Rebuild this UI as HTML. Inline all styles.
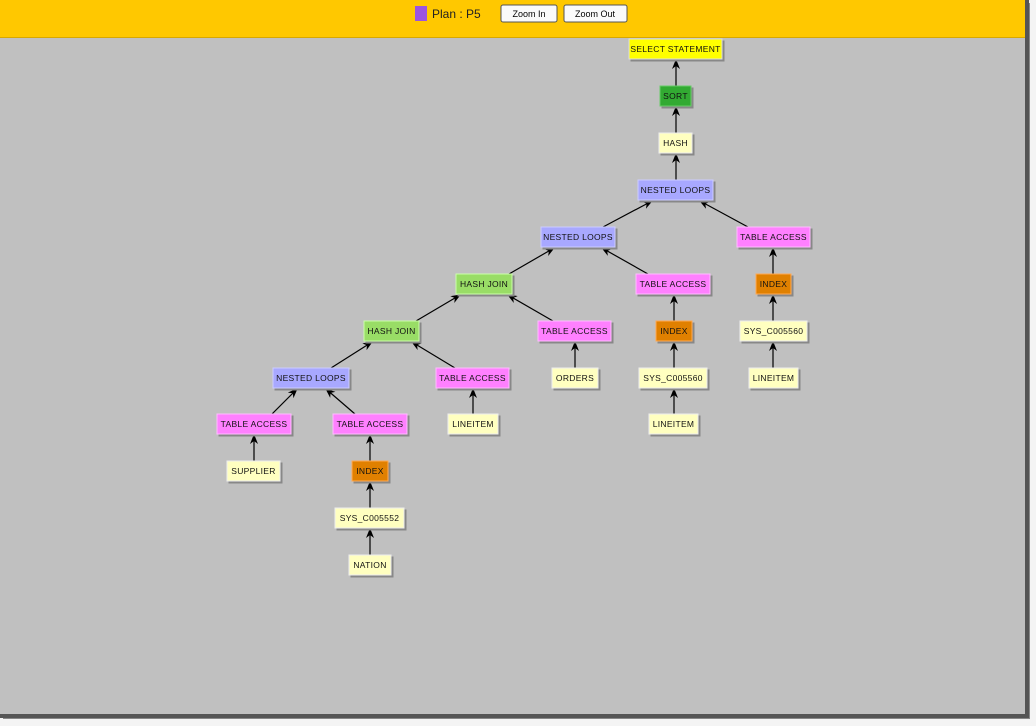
<!DOCTYPE html>
<html><head><meta charset="utf-8"><style>
body{margin:0;width:1036px;height:726px;overflow:hidden;background:#fff;font-family:"Liberation Sans",Arial,sans-serif}
</style></head><body>
<svg width="1036" height="726" xmlns="http://www.w3.org/2000/svg" style="position:absolute;left:0;top:0">
<defs>
<marker id="a" markerWidth="10" markerHeight="8" refX="9" refY="4" orient="auto" markerUnits="userSpaceOnUse"><path d="M0,0 L10,4 L0,8 L3,4 Z" fill="#000"/></marker>
<filter id="s" x="-10%" y="-10%" width="130%" height="150%"><feDropShadow dx="2" dy="2" stdDeviation="0" flood-color="#888" flood-opacity="1"/></filter>
</defs>
<rect x="0" y="0" width="1036" height="726" fill="#f4f4f4"/>
<rect x="3" y="3" width="1027" height="716" fill="#888"/>
<rect x="0" y="0" width="1029" height="718" fill="#555"/>
<rect x="0" y="0" width="1025" height="714" fill="#c0c0c0"/>
<rect x="0" y="0" width="1025" height="37" fill="#ffc800"/>
<rect x="0" y="37" width="1025" height="1" fill="#d8a800"/>
<rect x="415" y="6" width="12" height="15" fill="#9b55e0"/>
<text x="432" y="18" font-size="12" fill="#222">Plan : P5</text>
<rect x="501" y="5" width="56" height="17" rx="2" fill="#fafafa" stroke="#555"/>
<text x="529" y="17" font-size="9" text-anchor="middle">Zoom In</text>
<rect x="564" y="5" width="63" height="17" rx="2" fill="#fafafa" stroke="#555"/>
<text x="595" y="17" font-size="9" text-anchor="middle">Zoom Out</text>
<g stroke="#000" stroke-width="1.2" marker-end="url(#a)">
<line x1="676" y1="86" x2="676" y2="60"/>
<line x1="676" y1="133" x2="676" y2="107"/>
<line x1="676" y1="180" x2="676" y2="154"/>
<line x1="603" y1="227" x2="652" y2="201"/>
<line x1="748" y1="227" x2="700" y2="201"/>
<line x1="509" y1="274" x2="554" y2="248"/>
<line x1="648" y1="274" x2="602" y2="248"/>
<line x1="773" y1="274" x2="773" y2="248"/>
<line x1="416" y1="321" x2="460" y2="295"/>
<line x1="553" y1="321" x2="508" y2="295"/>
<line x1="674" y1="321" x2="674" y2="295"/>
<line x1="773" y1="321" x2="773" y2="295"/>
<line x1="331" y1="368" x2="372" y2="342"/>
<line x1="455" y1="368" x2="412" y2="342"/>
<line x1="575" y1="368" x2="575" y2="342"/>
<line x1="674" y1="368" x2="674" y2="342"/>
<line x1="773" y1="368" x2="773" y2="342"/>
<line x1="272" y1="414" x2="297" y2="389"/>
<line x1="355" y1="414" x2="326" y2="389"/>
<line x1="473" y1="414" x2="473" y2="389"/>
<line x1="674" y1="414" x2="674" y2="389"/>
<line x1="254" y1="461" x2="254" y2="435"/>
<line x1="370" y1="461" x2="370" y2="435"/>
<line x1="370" y1="508" x2="370" y2="482"/>
<line x1="370" y1="555" x2="370" y2="529"/>
</g>
<g font-size="8.5" text-anchor="middle" fill="#111" stroke-width="1" letter-spacing="0.3">
<g><rect x="629" y="39" width="93" height="20" fill="#ffff00" stroke="#ddd" filter="url(#s)"/><text x="675.5" y="52">SELECT STATEMENT</text></g>
<g><rect x="660" y="86" width="31" height="20" fill="#33aa33" stroke="#6c6" filter="url(#s)"/><text x="675.5" y="99">SORT</text></g>
<g><rect x="659" y="133" width="33" height="20" fill="#ffffc0" stroke="#eee" filter="url(#s)"/><text x="675.5" y="146">HASH</text></g>
<g><rect x="638" y="180" width="75" height="20" fill="#a8a8ff" stroke="#ccf" filter="url(#s)"/><text x="675.5" y="193">NESTED LOOPS</text></g>
<g><rect x="541" y="227" width="74" height="20" fill="#a8a8ff" stroke="#ccf" filter="url(#s)"/><text x="578" y="240">NESTED LOOPS</text></g>
<g><rect x="737" y="227" width="73" height="20" fill="#ff80ff" stroke="#fbf" filter="url(#s)"/><text x="773.5" y="240">TABLE ACCESS</text></g>
<g><rect x="456" y="274" width="56" height="20" fill="#99dd66" stroke="#cfa" filter="url(#s)"/><text x="484" y="287">HASH JOIN</text></g>
<g><rect x="636" y="274" width="74" height="20" fill="#ff80ff" stroke="#fbf" filter="url(#s)"/><text x="673" y="287">TABLE ACCESS</text></g>
<g><rect x="756" y="274" width="35" height="20" fill="#e08000" stroke="#fa5" filter="url(#s)"/><text x="773.5" y="287">INDEX</text></g>
<g><rect x="364" y="321" width="55" height="20" fill="#99dd66" stroke="#cfa" filter="url(#s)"/><text x="391.5" y="334">HASH JOIN</text></g>
<g><rect x="538" y="321" width="73" height="20" fill="#ff80ff" stroke="#fbf" filter="url(#s)"/><text x="574.5" y="334">TABLE ACCESS</text></g>
<g><rect x="656" y="321" width="36" height="20" fill="#e08000" stroke="#fa5" filter="url(#s)"/><text x="674" y="334">INDEX</text></g>
<g><rect x="740" y="321" width="67" height="20" fill="#ffffc0" stroke="#eee" filter="url(#s)"/><text x="773.5" y="334">SYS_C005560</text></g>
<g><rect x="273" y="368" width="76" height="20" fill="#a8a8ff" stroke="#ccf" filter="url(#s)"/><text x="311" y="381">NESTED LOOPS</text></g>
<g><rect x="436" y="368" width="73" height="20" fill="#ff80ff" stroke="#fbf" filter="url(#s)"/><text x="472.5" y="381">TABLE ACCESS</text></g>
<g><rect x="552" y="368" width="46" height="20" fill="#ffffc0" stroke="#eee" filter="url(#s)"/><text x="575" y="381">ORDERS</text></g>
<g><rect x="639" y="368" width="68" height="20" fill="#ffffc0" stroke="#eee" filter="url(#s)"/><text x="673" y="381">SYS_C005560</text></g>
<g><rect x="749" y="368" width="49" height="20" fill="#ffffc0" stroke="#eee" filter="url(#s)"/><text x="773.5" y="381">LINEITEM</text></g>
<g><rect x="217" y="414" width="74" height="20" fill="#ff80ff" stroke="#fbf" filter="url(#s)"/><text x="254" y="427">TABLE ACCESS</text></g>
<g><rect x="333" y="414" width="74" height="20" fill="#ff80ff" stroke="#fbf" filter="url(#s)"/><text x="370" y="427">TABLE ACCESS</text></g>
<g><rect x="448" y="414" width="50" height="20" fill="#ffffc0" stroke="#eee" filter="url(#s)"/><text x="473" y="427">LINEITEM</text></g>
<g><rect x="649" y="414" width="49" height="20" fill="#ffffc0" stroke="#eee" filter="url(#s)"/><text x="673.5" y="427">LINEITEM</text></g>
<g><rect x="227" y="461" width="53" height="20" fill="#ffffc0" stroke="#eee" filter="url(#s)"/><text x="253.5" y="474">SUPPLIER</text></g>
<g><rect x="352" y="461" width="36" height="20" fill="#e08000" stroke="#fa5" filter="url(#s)"/><text x="370" y="474">INDEX</text></g>
<g><rect x="335" y="508" width="69" height="20" fill="#ffffc0" stroke="#eee" filter="url(#s)"/><text x="369.5" y="521">SYS_C005552</text></g>
<g><rect x="349" y="555" width="42" height="20" fill="#ffffc0" stroke="#eee" filter="url(#s)"/><text x="370" y="568">NATION</text></g>
</g>
</svg>
</body></html>
